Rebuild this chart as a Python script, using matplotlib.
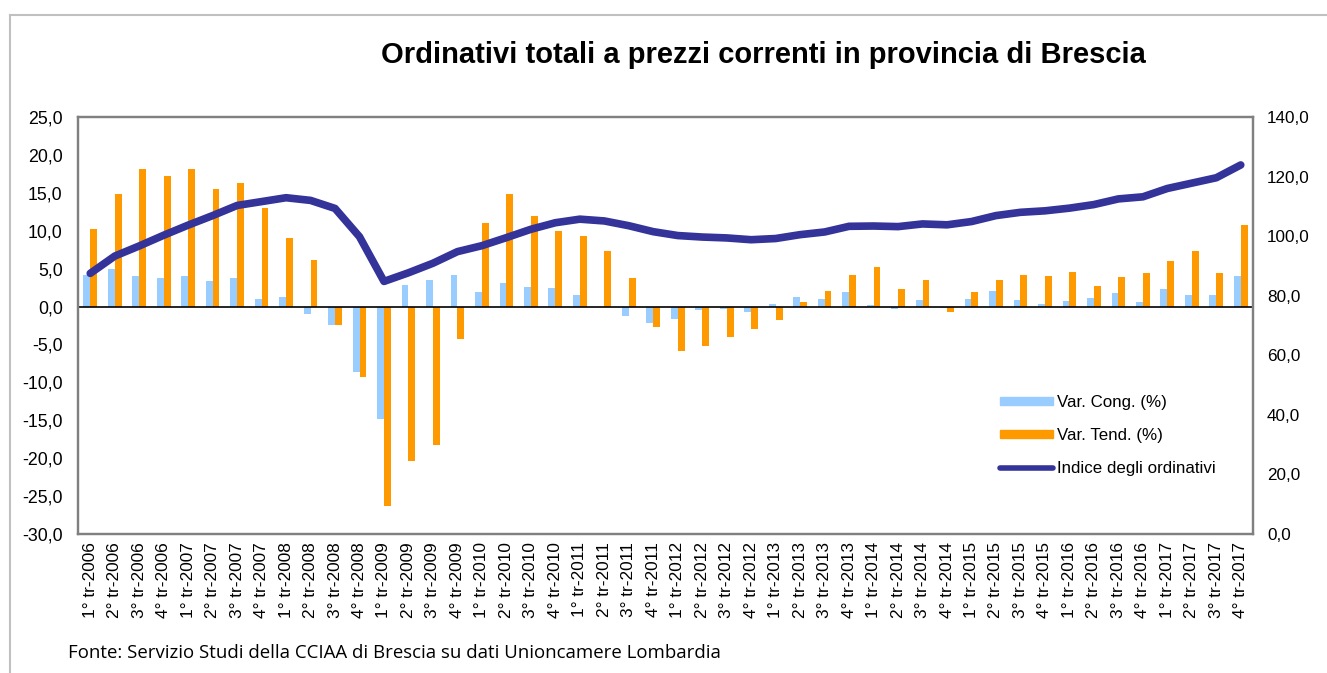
import matplotlib.pyplot as plt
import numpy as np
from matplotlib.lines import Line2D
from matplotlib.patches import Patch

plt.rcParams['font.family'] = ['Liberation Sans', 'DejaVu Sans']

# Quarter labels
quarters = []
for year in range(2006, 2018):
    for q in range(1, 5):
        quarters.append(f"{q}° tr-{year}")

# Var. Cong. (%)
cong = [4.1, 4.9, 4.0, 3.8, 4.0, 3.4, 3.7, 1.05, 1.2, -1.0, -2.4, -8.6,
        -14.8, 2.8, 3.5, 4.1, 1.9, 3.1, 2.6, 2.4, 1.5, 0.0, -1.2, -2.2,
        -1.6, -0.45, -0.35, -0.7, 0.3, 1.3, 0.95, 1.9, 0.15, -0.35, 0.8, -0.2,
        0.95, 2.0, 0.8, 0.4, 0.7, 1.1, 1.75, 0.6, 2.3, 1.5, 1.5, 4.0]

# Var. Tend. (%)
tend = [10.2, 14.9, 18.1, 17.2, 18.1, 15.5, 16.3, 13.0, 9.0, 6.15, -2.4, -9.3,
        -26.3, -20.4, -18.3, -4.3, 11.0, 14.8, 11.9, 10.0, 9.3, 7.3, 3.7, -2.7,
        -5.9, -5.2, -4.0, -3.0, -1.8, 0.6, 2.1, 4.2, 5.2, 2.3, 3.5, -0.75,
        1.9, 3.5, 4.1, 4.0, 4.6, 2.75, 3.9, 4.4, 6.0, 7.3, 4.4, 10.7]

# Indice degli ordinativi (right axis)
indice = [87.5, 93.3, 96.7, 100.3, 103.7, 106.9, 110.3, 111.6, 112.9, 112.0, 109.3, 99.8,
          84.8, 87.7, 90.9, 94.8, 96.8, 99.5, 102.3, 104.5, 105.7, 105.1, 103.5, 101.5,
          100.2, 99.7, 99.4, 98.8, 99.2, 100.5, 101.4, 103.3, 103.4, 103.2, 104.1, 103.8,
          104.9, 106.9, 108.0, 108.5, 109.4, 110.6, 112.5, 113.2, 116.0, 117.8, 119.6, 123.9]

left_ticks = np.arange(-30, 26, 5)
right_ticks = np.arange(0, 141, 20)

c_cong = '#99CCFF'
c_tend = '#FF9900'
c_line = '#333399'

fig = plt.figure(figsize=(13.27, 6.73), dpi=100)
ax = fig.add_axes([78 / 1327, 1 - 534 / 673, (1253 - 78) / 1327, (534 - 117) / 673])
ax2 = ax.twinx()

x = np.arange(len(quarters))
w = 0.28
ax.bar(x - w / 2, cong, width=w, color=c_cong, linewidth=0)
ax.bar(x + w / 2, tend, width=w, color=c_tend, linewidth=0)
ax.axhline(0, color='black', linewidth=1.2)

ax2.plot(x, indice, color=c_line, linewidth=5.5, solid_capstyle='round',
         solid_joinstyle='round')

ax.set_xlim(-0.5, len(quarters) - 0.5)
ax.set_ylim(-30, 25)
ax2.set_ylim(0, 140)
ax.set_yticks(left_ticks)
ax.set_yticklabels([f"{v:.1f}".replace('.', ',') for v in left_ticks], fontsize=12.8)
ax2.set_yticks(right_ticks)
ax2.set_yticklabels([f"{v:.1f}".replace('.', ',') for v in right_ticks], fontsize=12.3)
ax.set_xticks(x)
ax.set_xticklabels(quarters, rotation=90, fontsize=12.4)
ax.tick_params(axis='y', length=0, pad=11)
ax.tick_params(axis='x', length=0, pad=6)
ax2.tick_params(axis='y', length=0, pad=10)

for a in (ax, ax2):
    for s in a.spines.values():
        s.set_color('#808080')
        s.set_linewidth(1.6)

handles = [Patch(color=c_cong), Patch(color=c_tend),
           Line2D([0], [0], color=c_line, linewidth=4, solid_capstyle='round')]
labels = ['Var. Cong. (%)', 'Var. Tend. (%)', 'Indice degli ordinativi']
fig.legend(handles, labels, loc='upper left', bbox_to_anchor=(1000 / 1327, 1 - 395 / 673),
           frameon=False, fontsize=12.2, handlelength=3.1, handleheight=0.33,
           handletextpad=0.25, labelspacing=1.05, borderpad=0, borderaxespad=0)

fig.text(0.575, 1 - 55 / 673, "Ordinativi totali a prezzi correnti in provincia di Brescia",
         ha='center', va='center', fontsize=21, fontweight='bold')
fig.text(68 / 1327, 1 - 653 / 673,
         "Fonte: Servizio Studi della CCIAA di Brescia su dati Unioncamere Lombardia",
         ha='left', va='center', fontsize=13.4, family=['Open Sans', 'DejaVu Sans'])

# outer frame of the chart area
fig.add_artist(Line2D([10 / 1327, 10 / 1327], [0, 1 - 15 / 673], color='#C0C0C0', linewidth=1.5))
fig.add_artist(Line2D([10 / 1327, 1], [1 - 15 / 673, 1 - 15 / 673], color='#C0C0C0', linewidth=1.5))

fig.savefig('out.png', dpi=100)
